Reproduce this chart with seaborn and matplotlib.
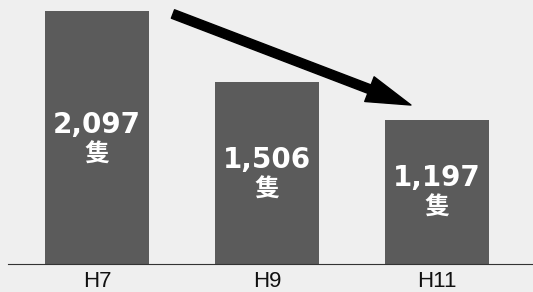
import matplotlib
matplotlib.use("Agg")
import matplotlib.pyplot as plt
import seaborn as sns
import pandas as pd
from matplotlib.patches import FancyArrowPatch

categories = ["H7", "H9", "H11"]
values = [2097, 1506, 1197]
value_labels = ["2,097", "1,506", "1,197"]
unit = "隻"

sns.set_theme(style="white")
plt.rcParams['font.family'] = ['Liberation Sans', 'DejaVu Sans']

bg = "#efefef"
bar_color = "#5b5b5b"

W, H = 533, 292
fig = plt.figure(figsize=(W / 100, H / 100), dpi=100, facecolor=bg)
# axes: x from 8 to 533 px, y from 0 to 264 px (top-origin)
ax = fig.add_axes([8 / W, (H - 264) / H, (W - 8) / W, 264 / H])
ax.set_facecolor(bg)

df = pd.DataFrame({"cat": categories, "val": values})
sns.barplot(data=df, x="cat", y="val", color=bar_color, saturation=1,
            width=0.612, linewidth=0, edgecolor=bar_color, ax=ax)

ax.set_xlim(-0.5235, 2.565)
ax.set_ylim(0, 2187)
ax.set_xlabel("")
ax.set_ylabel("")
ax.set_yticks([])
for s in ["left", "right", "top"]:
    ax.spines[s].set_visible(False)
ax.spines["bottom"].set_color("#333333")
ax.spines["bottom"].set_linewidth(0.8)
ax.tick_params(axis="x", length=0, pad=5, labelsize=16, labelcolor="#111111")

for i, (v, lab) in enumerate(zip(values, value_labels)):
    yc = 133 + 0.486 * v
    ax.text(i, yc, lab, ha="center", va="center", color="white",
            fontsize=20, fontweight="bold", family=["DejaVu Sans"])
    ax.text(i, yc - 249, unit, ha="center", va="center", color="white",
            fontsize=18, fontweight="bold", family=["Noto Sans CJK JP", "DejaVu Sans"])

# downward trend arrow
arrow = FancyArrowPatch((0.447, 2071), (1.847, 1317),
                        arrowstyle="simple,head_length=32,head_width=19,tail_width=6.5",
                        mutation_scale=1, color="black", shrinkA=0, shrinkB=0,
                        clip_on=False)
ax.add_patch(arrow)

fig.savefig("out.png", dpi=100, facecolor=bg)
